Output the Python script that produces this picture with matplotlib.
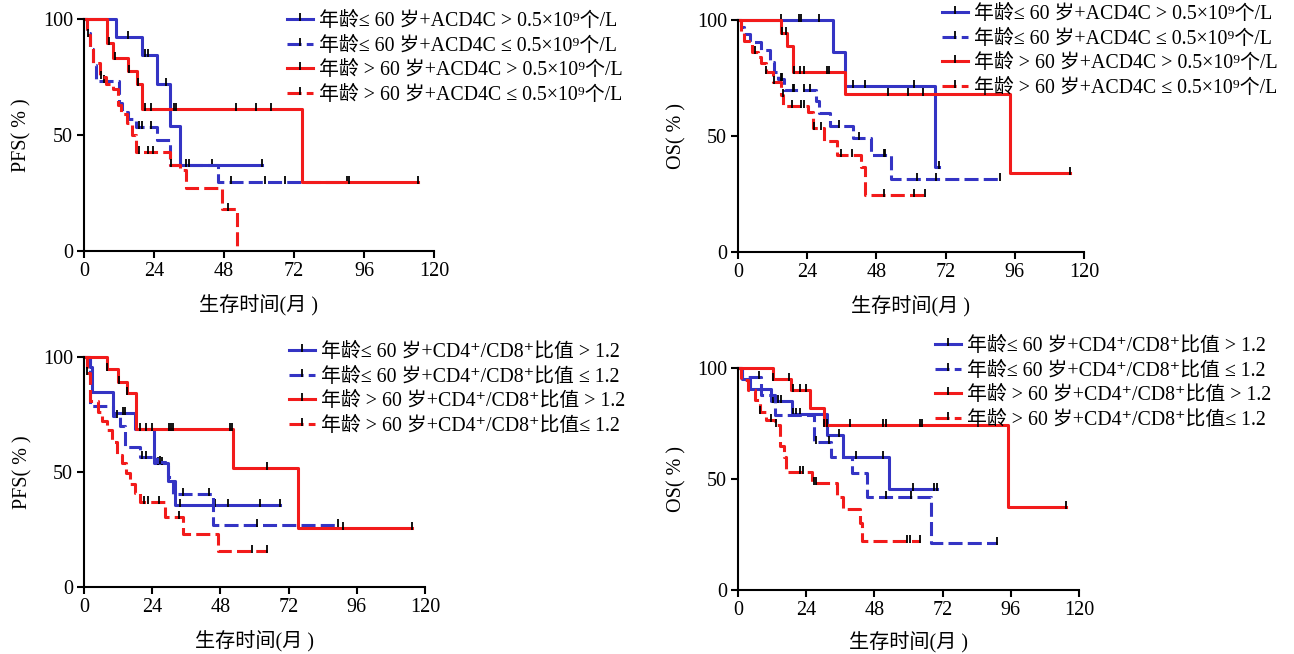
import numpy as np
import matplotlib
matplotlib.use("Agg")
import matplotlib.pyplot as plt
from matplotlib.lines import Line2D

plt.rcParams['font.family'] = ['Liberation Serif', 'Noto Sans CJK SC', 'DejaVu Sans']

BLUE = '#3434c4'
RED = '#f21b1b'

# a: 年龄≤60 高组(蓝实线)  b: 年龄≤60 低组(蓝虚线)
# c: 年龄>60 高组(红实线)  d: 年龄>60 低组(红虚线)
# _t 事件时间(月), _s 生存率(%), _c 删失时间

# 图1 PFS, ACD4C
a1_t = [0, 11, 20, 25, 29.5, 33]
a1_s = [100, 92.3, 84.6, 72, 54, 37]
a1_c = [15, 21, 22, 28, 35, 44, 61]
b1_t = [0, 1, 2, 3, 4, 12, 13, 15, 18, 25, 29.5, 46]
b1_s = [100, 94, 87, 80, 73.5, 64, 60, 57, 53.5, 48, 37, 29.6]
b1_c = [7, 19, 20, 23, 36, 50.5, 62, 69, 90]
c1_t = [0, 7.8, 10, 15.2, 18.3, 19.8, 74.6]
c1_s = [100, 89.5, 83.3, 77.6, 72, 61.2, 29.9]
c1_c = [8.5, 10.5, 15.5, 18.5, 21, 23, 31, 31.7, 52, 59, 64, 91, 114.6]
d1_t = [0, 1, 2, 3, 5.5, 7.5, 10, 11.7, 12.8, 14.6, 16.3, 18, 29.5, 33, 35, 47.2, 52.3]
d1_s = [100, 93, 88, 81, 75, 72, 70, 63, 59, 55, 50, 42.5, 37, 35, 27, 18, 0]
d1_c = [1.5, 6, 19, 22, 23.5, 29.8, 49.5]

# 图2 OS, ACD4C
a2_t = [0, 33, 37, 68.3]
a2_s = [100, 86, 71.7, 36.8]
a2_c = [15, 21.2, 21.7, 28, 40, 44, 61, 69.7]
b2_t = [0, 1, 2, 4, 8, 11, 12.5, 14, 16, 27, 28, 32, 40, 46, 53]
b2_s = [100, 97, 94, 90.5, 87, 82, 77.5, 74.5, 70, 65, 60, 54.5, 49, 42, 31.5]
b2_c = [14.8, 15.3, 19, 19.5, 23, 25, 35, 42, 50.5, 51, 62, 68.6, 91]
c2_t = [0, 15, 17, 19, 37, 94.5]
c2_s = [100, 94.4, 88.9, 77.8, 68, 34]
c2_c = [15.2, 16.8, 19.5, 21.5, 23, 31, 31.6, 52, 59, 64, 115]
d2_t = [0, 1, 2, 5, 7, 8, 9.6, 12, 14.8, 15.7, 24.3, 26, 29.8, 34.5, 42.5, 44]
d2_s = [100, 95, 91, 86.4, 84, 81.3, 77.7, 73.4, 67.7, 63, 60.5, 53.3, 47.8, 41.8, 36.5, 24.6]
d2_c = [5.8, 9.6, 12.5, 15.5, 18.8, 21.7, 23, 26.4, 28.9, 35.6, 39.6, 50.5, 61, 65]

# 图3 PFS, CD4+/CD8+
a3_t = [0, 2, 2.7, 10.3, 18, 24.6, 29.7, 32]
a3_s = [100, 95.6, 85, 75.6, 68.8, 53.8, 46, 35.6]
a3_c = [13.8, 14.4, 26.2, 27.3, 33.8, 46, 50.8, 62, 69]
b3_t = [0, 2, 10.3, 12.7, 14.4, 19.7, 25.6, 29.7, 31.5, 45.5]
b3_s = [100, 78.5, 74.5, 69.8, 61, 56.7, 54.5, 48, 40.3, 26.9]
b3_c = [11.5, 20.3, 22, 26.7, 35, 44, 61, 89.5]
c3_t = [0, 8, 12.1, 15, 18.2, 52.5, 75.4]
c3_s = [100, 94.9, 89.1, 84.3, 68.8, 51.6, 25.7]
c3_c = [8.2, 12.3, 15.2, 19.8, 22, 23.8, 30, 30.6, 31.2, 51.4, 52, 64.3, 91.3, 115.3]
d3_t = [0, 1, 2, 4.8, 6.5, 8, 9.8, 11.6, 13.3, 14.9, 16.3, 18, 19.8, 28.6, 35, 47.3]
d3_s = [100, 93, 80.7, 76.3, 72, 68.3, 63.2, 57.4, 53.8, 49.4, 45, 40.7, 37, 30.5, 23, 15.7]
d3_c = [1.2, 21, 22.5, 26.5, 33.5, 59, 64.3]

# 图4 OS, CD4+/CD8+
a4_t = [0, 1.5, 4.2, 11.5, 18.9, 31.5, 37, 53.2]
a4_s = [100, 95, 90.4, 85.1, 79.5, 69.8, 60, 45.3]
a4_c = [12.5, 14, 15, 19.5, 20.5, 22, 35.5, 41.7, 51, 61.6, 69, 70]
b4_t = [0, 1.5, 8, 13, 26.7, 32.6, 40.2, 45.5, 68]
b4_s = [100, 96, 88, 78.8, 66.8, 60, 52.5, 42, 21.2]
b4_c = [7.5, 27.5, 32, 52, 61, 91.3]
c4_t = [0, 12.2, 18.6, 25.3, 30.2, 95]
c4_s = [100, 94.9, 90, 82.1, 74.3, 37.5]
c4_c = [12.2, 18, 19.3, 22, 23.8, 30.2, 31.5, 39.6, 51, 52, 63.9, 64.9, 115.3]
d4_t = [0, 1, 3.6, 6, 7.7, 10, 13, 14.8, 16.2, 17, 25.9, 34.7, 37, 42.9, 43.8]
d4_s = [100, 94.6, 90, 85.6, 80.3, 76.5, 74.5, 65, 60, 53, 48, 42, 36.4, 30, 22]
d4_c = [7.8, 11.5, 13.5, 21.8, 22.8, 26.8, 27.3, 59.5, 60.5, 64.2]

labels_acd4 = ['年龄≤ 60 岁+ACD4C > 0.5×10⁹个/L',
               '年龄≤ 60 岁+ACD4C ≤ 0.5×10⁹个/L',
               '年龄 > 60 岁+ACD4C > 0.5×10⁹个/L',
               '年龄 > 60 岁+ACD4C ≤ 0.5×10⁹个/L']
labels_ratio = ['年龄≤ 60 岁+CD4⁺/CD8⁺比值 > 1.2',
                '年龄≤ 60 岁+CD4⁺/CD8⁺比值 ≤ 1.2',
                '年龄 > 60 岁+CD4⁺/CD8⁺比值 > 1.2',
                '年龄 > 60 岁+CD4⁺/CD8⁺比值≤ 1.2']

TICK = [(0, -0.25), (0, 1)]
DASH = (0, (4.6, 1.7))
styles = [(BLUE, '-'), (BLUE, DASH), (RED, '-'), (RED, DASH)]


def km(ax, t, s, c, color, ls):
    t = np.asarray(t, float)
    s = np.asarray(s, float)
    c = np.asarray(c, float)
    end = max(t[-1], c[-1])
    ax.step(np.append(t, end), np.append(s, s[-1]), where='post',
            color=color, ls=ls, lw=2.2, clip_on=False)
    idx = np.searchsorted(t, c, side='right') - 1
    ax.plot(c, s[idx], ls='none', marker=TICK, ms=9, mec='black', mew=1.3,
            clip_on=False)


def panel(rect, curves, ylab, labels, leg_xy):
    ax = fig.add_axes(rect)
    for (t, s, c), (col, ls) in zip(curves, styles):
        km(ax, t, s, c, col, ls)
    ax.set_xlim(0, 120)
    ax.set_ylim(0, 100)
    ax.set_xticks([0, 24, 48, 72, 96, 120])
    ax.set_yticks([0, 50, 100])
    for sp in ['top', 'right']:
        ax.spines[sp].set_visible(False)
    for sp in ['left', 'bottom']:
        ax.spines[sp].set_linewidth(1.5)
    ax.tick_params(direction='out', length=5, width=1.5, labelsize=14.5, pad=3)
    ax.set_xlabel('生存时间(月 )', fontsize=14.5)
    ax.xaxis.set_label_coords(0.5, -0.19)
    ax.set_ylabel(ylab, fontsize=14.5)
    ax.yaxis.set_label_coords(-0.15, 0.5)
    handles = [Line2D([], [], color=col, ls=ls, lw=2.2, marker=TICK, ms=9,
                      mec='black', mew=1.3) for col, ls in styles]
    ax.legend(handles, labels, loc='upper left',
              bbox_to_anchor=(leg_xy[0] / W, 1 - leg_xy[1] / H),
              bbox_transform=fig.transFigure, frameon=False, fontsize=14.3,
              handlelength=1.3, handletextpad=0.3, labelspacing=0.28,
              borderpad=0, borderaxespad=0)
    return ax


W, H = 1294, 654
fig = plt.figure(figsize=(W / 100, H / 100), dpi=100)

panel([0.0649, 0.6162, 0.2705, 0.3547],
      [(a1_t, a1_s, a1_c), (b1_t, b1_s, b1_c), (c1_t, c1_s, c1_c), (d1_t, d1_s, d1_c)],
      'PFS( % )', labels_acd4, (287, 12))
panel([0.5703, 0.6147, 0.2674, 0.3547],
      [(a2_t, a2_s, a2_c), (b2_t, b2_s, b2_c), (c2_t, c2_s, c2_c), (d2_t, d2_s, d2_c)],
      'OS( % )', labels_acd4, (942, 5))
panel([0.0649, 0.1024, 0.2635, 0.3517],
      [(a3_t, a3_s, a3_c), (b3_t, b3_s, b3_c), (c3_t, c3_s, c3_c), (d3_t, d3_s, d3_c)],
      'PFS( % )', labels_ratio, (289, 343))
panel([0.5703, 0.0979, 0.2635, 0.3394],
      [(a4_t, a4_s, a4_c), (b4_t, b4_s, b4_c), (c4_t, c4_s, c4_c), (d4_t, d4_s, d4_c)],
      'OS( % )', labels_ratio, (935, 337))

fig.savefig('out.png', dpi=100)
